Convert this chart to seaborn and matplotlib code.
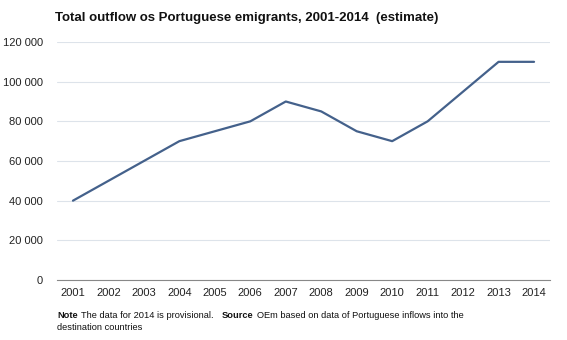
import matplotlib
matplotlib.use("Agg")
import matplotlib.pyplot as plt
import seaborn as sns
import pandas as pd

years = [2001, 2002, 2003, 2004, 2005, 2006, 2007, 2008, 2009, 2010, 2011, 2012, 2013, 2014]
emigrants = [40000, 50000, 60000, 70000, 75000, 80000, 90000, 85000, 75000, 70000, 80000, 95000, 110000, 110000]
yticks = [0, 20000, 40000, 60000, 80000, 100000, 120000]

sns.set_style("white")
plt.rcParams['font.family'] = ['Liberation Sans', 'DejaVu Sans']

df = pd.DataFrame({"year": years, "value": emigrants})

fig = plt.figure(figsize=(5.67, 3.40), dpi=100)
ax = fig.add_axes([57/567, 1-280/340, (550-57)/567, (280-42)/340])
sns.lineplot(data=df, x="year", y="value", ax=ax, color="#44618b", linewidth=1.6)

ax.set_xlim(2000.55, 2014.45)
ax.set_ylim(0, 120000)
ax.set_yticks(yticks)
ax.set_yticklabels([f"{v:,}".replace(",", " ") for v in yticks])
ax.set_xticks(years)
ax.set_xticklabels([str(y) for y in years])
ax.tick_params(axis='both', length=0, labelsize=8, colors="#222222")
ax.tick_params(axis='y', pad=10)
ax.tick_params(axis='x', pad=6)
ax.set_xlabel("")
ax.set_ylabel("")
ax.grid(axis='y', color="#dde3ea", linewidth=0.8)
for s in ["top", "right", "left"]:
    ax.spines[s].set_visible(False)
ax.spines["bottom"].set_color("#888888")
ax.spines["bottom"].set_linewidth(0.8)

fig.text(55/567, 1-18/340, "Total outflow os Portuguese emigrants, 2001-2014  (estimate)",
         fontsize=9.5, fontweight="bold", va="center", ha="left", color="#111111")

# footnote: place pieces sequentially
renderer = fig.canvas.get_renderer()
pieces = [("Note", "bold", 3), ("The data for 2014 is provisional.", "normal", 8),
          ("Source", "bold", 4), ("OEm based on data of Portuguese inflows into the", "normal", 0)]
x = 57.0
y = 1 - 316/340
for txt, w, gap in pieces:
    t = fig.text(x/567, y, txt, fontsize=6.7, fontweight=w, va="center", ha="left", color="#111111")
    bb = t.get_window_extent(renderer=renderer)
    x += bb.width + gap
fig.text(57/567, 1-327/340, "destination countries", fontsize=6.7, va="center", ha="left", color="#111111")

fig.savefig("out.png", dpi=100)
